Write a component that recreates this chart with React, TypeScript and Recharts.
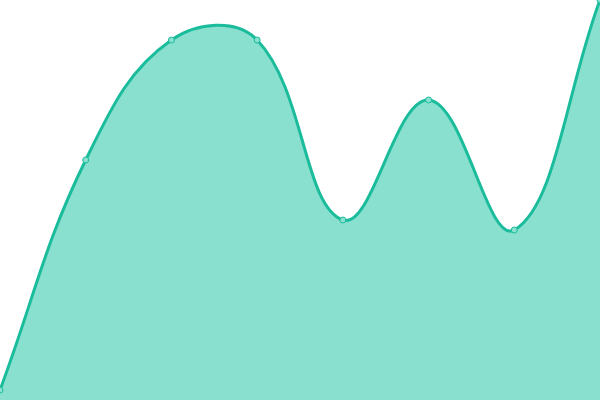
import { AreaChart, Area, XAxis, YAxis } from "recharts";

const labels = ["A", "B", "C", "D", "E", "F", "G", "H"];
const values = [10, 240, 360, 360, 180, 300, 170, 400];

const data = labels.map((label, i) => ({ label, value: values[i] }));

const W = 600;
const H = 400;
const TENSION = 0.4;

// tension spline (control points from neighbours, capped to the plot box)
// eslint-disable-next-line @typescript-eslint/no-explicit-any
const tensionCurve = (ctx: any) => {
  let line = NaN;
  let pts: number[][] = [];
  const cap = (v: number, max: number) => Math.max(0, Math.min(max, v));
  return {
    areaStart() { line = 0; },
    areaEnd() { line = NaN; },
    lineStart() { pts = []; },
    point(x: number, y: number) { pts.push([+x, +y]); },
    lineEnd() {
      const n = pts.length;
      if (n) {
        const prev: number[][] = [];
        const next: number[][] = [];
        for (let i = 0; i < n; i++) {
          const p0 = pts[i - 1] || pts[i];
          const p1 = pts[i];
          const p2 = pts[i + 1] || pts[i];
          const d01 = Math.hypot(p1[0] - p0[0], p1[1] - p0[1]);
          const d12 = Math.hypot(p2[0] - p1[0], p2[1] - p1[1]);
          let s01 = d01 / (d01 + d12);
          let s12 = d12 / (d01 + d12);
          if (isNaN(s01)) s01 = 0;
          if (isNaN(s12)) s12 = 0;
          const fa = TENSION * s01;
          const fb = TENSION * s12;
          prev.push([cap(p1[0] - fa * (p2[0] - p0[0]), W), cap(p1[1] - fa * (p2[1] - p0[1]), H)]);
          next.push([cap(p1[0] + fb * (p2[0] - p0[0]), W), cap(p1[1] + fb * (p2[1] - p0[1]), H)]);
        }
        if (line) ctx.lineTo(pts[0][0], pts[0][1]);
        else ctx.moveTo(pts[0][0], pts[0][1]);
        for (let i = 1; i < n; i++) {
          ctx.bezierCurveTo(next[i - 1][0], next[i - 1][1], prev[i][0], prev[i][1], pts[i][0], pts[i][1]);
        }
      }
      if (line || (line !== 0 && n === 1)) ctx.closePath();
      line = 1 - line;
    },
  };
};

export default function App() {
  return (
    <div style={{ position: "absolute", top: 0, left: 0, width: W, height: H, background: "#fff" }}>
      <AreaChart width={W} height={H} data={data} margin={{ top: 0, right: 0, left: 0, bottom: 0 }}>
        <XAxis dataKey="label" hide />
        <YAxis hide domain={[0, 400]} />
        <Area
          type={tensionCurve}
          dataKey="value"
          stroke="#1abc9c"
          strokeWidth={3}
          fill="#89e0cf"
          fillOpacity={1}
          dot={{ r: 3, fill: "#8ae0ce", stroke: "#1abc9c", strokeWidth: 1 }}
          activeDot={false}
          isAnimationActive={false}
        />
      </AreaChart>
    </div>
  );
}
